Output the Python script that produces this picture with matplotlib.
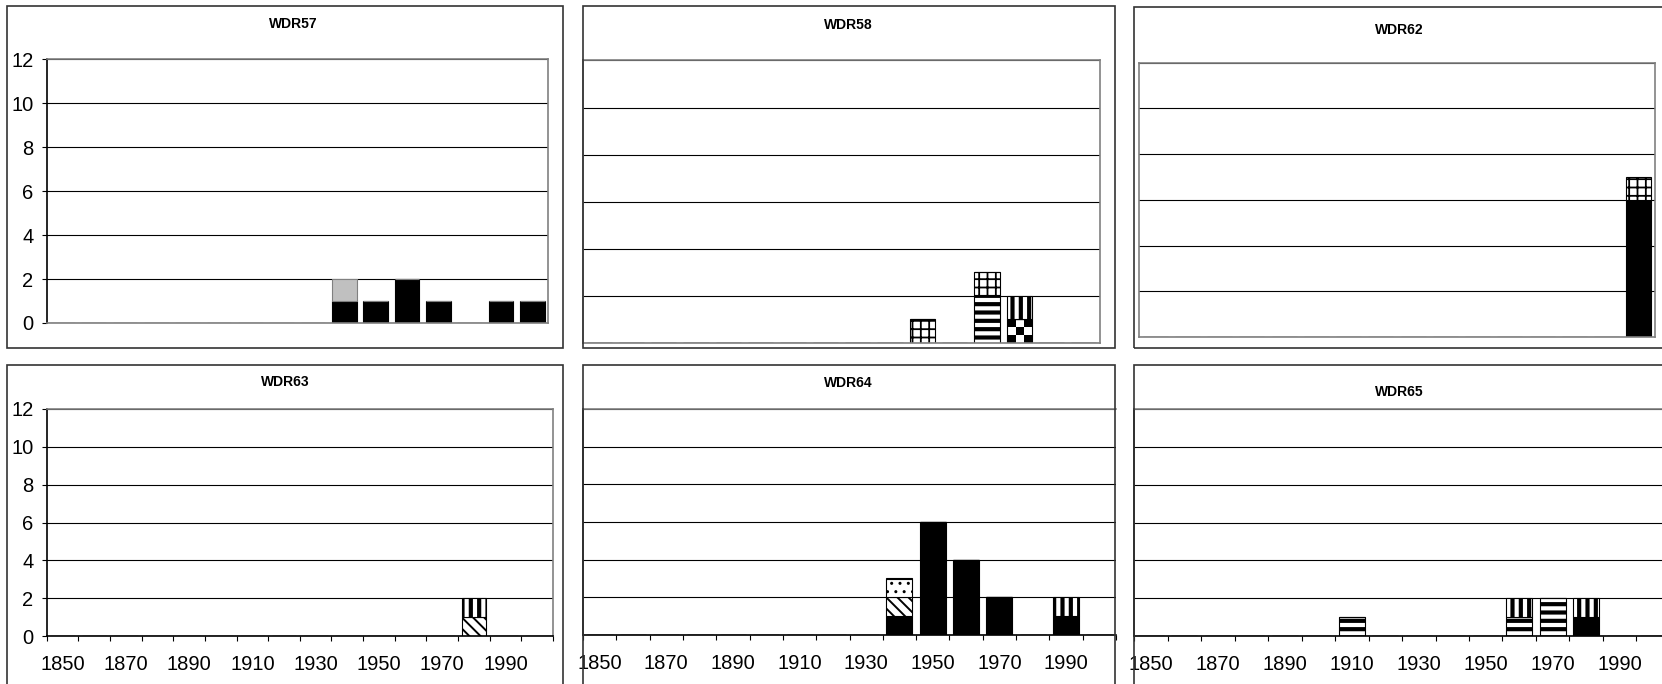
import numpy as np
import matplotlib
matplotlib.use('Agg')
import matplotlib.pyplot as plt
from matplotlib.patches import Rectangle

plt.rcParams['font.family'] = ['Liberation Sans', 'DejaVu Sans']

# categories (decades) and the labels shown under the bottom row
years = [1850, 1860, 1870, 1880, 1890, 1900, 1910, 1920,
         1930, 1940, 1950, 1960, 1970, 1980, 1990, 2000]
year_labels = ['1850', '1870', '1890', '1910', '1930', '1950', '1970', '1990']
y_ticks = [0, 2, 4, 6, 8, 10, 12]

# counts per decade, one list per fill pattern and panel
wdr57_black = [0, 0, 0, 0, 0, 0, 0, 0, 0, 1, 1, 2, 1, 0, 1, 1]
wdr57_grey = [0, 0, 0, 0, 0, 0, 0, 0, 0, 1, 0, 0, 0, 0, 0, 0]

wdr58_grid = [0, 0, 0, 0, 0, 0, 0, 0, 0, 0, 1, 0, 1, 0, 0, 0]
wdr58_hstripe = [0, 0, 0, 0, 0, 0, 0, 0, 0, 0, 0, 0, 2, 0, 0, 0]
wdr58_checker = [0, 0, 0, 0, 0, 0, 0, 0, 0, 0, 0, 0, 0, 1, 0, 0]
wdr58_vstripe = [0, 0, 0, 0, 0, 0, 0, 0, 0, 0, 0, 0, 0, 1, 0, 0]

wdr62_black = [0, 0, 0, 0, 0, 0, 0, 0, 0, 0, 0, 0, 0, 0, 0, 6]
wdr62_grid = [0, 0, 0, 0, 0, 0, 0, 0, 0, 0, 0, 0, 0, 0, 0, 1]

wdr63_diag = [0, 0, 0, 0, 0, 0, 0, 0, 0, 0, 0, 0, 0, 1, 0, 0]
wdr63_vstripe = [0, 0, 0, 0, 0, 0, 0, 0, 0, 0, 0, 0, 0, 1, 0, 0]

wdr64_black = [0, 0, 0, 0, 0, 0, 0, 0, 0, 1, 6, 4, 2, 0, 1, 0]
wdr64_diag = [0, 0, 0, 0, 0, 0, 0, 0, 0, 1, 0, 0, 0, 0, 0, 0]
wdr64_dots = [0, 0, 0, 0, 0, 0, 0, 0, 0, 1, 0, 0, 0, 0, 0, 0]
wdr64_vstripe = [0, 0, 0, 0, 0, 0, 0, 0, 0, 0, 0, 0, 0, 0, 1, 0]

wdr65_black = [0, 0, 0, 0, 0, 0, 0, 0, 0, 0, 0, 0, 0, 1, 0, 0]
wdr65_hstripe = [0, 0, 0, 0, 0, 0, 1, 0, 0, 0, 0, 1, 2, 0, 0, 0]
wdr65_vstripe = [0, 0, 0, 0, 0, 0, 0, 0, 0, 0, 0, 1, 0, 1, 0, 0]

W, H = 1662, 684
fig = plt.figure(figsize=(W / 100, H / 100), dpi=100)

order = ['black', 'grey', 'checker', 'diag', 'hstripe', 'dots', 'grid', 'vstripe']
styles = {
    'black': dict(fc='black', ec='black', hatch=None, hlw=None),
    'grey': dict(fc='#c0c0c0', ec='#808080', hatch=None, hlw=None),
    'checker': dict(fc='none', ec='black', hatch=None, hlw=None),
    'diag': dict(fc='white', ec='black', hatch='\\\\\\', hlw=1.4),
    'hstripe': dict(fc='white', ec='black', hatch='--', hlw=3.0),
    'dots': dict(fc='white', ec='black', hatch='..', hlw=1.0),
    'grid': dict(fc='white', ec='black', hatch='++', hlw=1.3),
    'vstripe': dict(fc='white', ec='black', hatch='||', hlw=3.0),
}
checker = np.array([[1, 0, 1], [0, 1, 0], [1, 0, 1]])

LABEL_SIZE = 14.5


def add_panel(left, top, right, bottom):
    ax = fig.add_axes([left / W, 1 - bottom / H, (right - left) / W, (bottom - top) / H])
    ax.set_yticks(y_ticks)
    ax.yaxis.grid(True, color='black', lw=0.8)
    ax.set_axisbelow(True)
    for s in ax.spines.values():
        s.set_color('#808080')
        s.set_linewidth(1.2)
    ax.tick_params(which='both', length=0, labelleft=False, labelbottom=False)
    return ax


def stacked(ax, series):
    x = np.arange(len(years)) + 0.5
    bottom = np.zeros(len(years))
    for name in order:
        if name not in series:
            continue
        vals = np.array(series[name], dtype=float)
        st = styles[name]
        bars = ax.bar(x, vals, 0.78, bottom=bottom, facecolor=st['fc'],
                      edgecolor=st['ec'], linewidth=0.8, hatch=st['hatch'], zorder=2)
        for b in bars:
            if st['hlw'] and hasattr(b, 'set_hatch_linewidth'):
                b.set_hatch_linewidth(st['hlw'])
            if name == 'checker' and b.get_height() > 0:
                x0, y0 = b.get_x(), b.get_y()
                ax.imshow(checker, cmap='gray_r', vmin=0, vmax=1, aspect='auto',
                          interpolation='nearest', zorder=1.9,
                          extent=(x0, x0 + b.get_width(), y0, y0 + b.get_height()))
        bottom += vals
    ax.set_xlim(0, len(years))
    ax.set_ylim(0, 12)


def y_labels(ax):
    ax.spines['left'].set_color('black')
    ax.tick_params(axis='y', which='major', length=3.6, direction='out',
                   labelleft=True, labelsize=LABEL_SIZE, pad=6, color='black')


def x_labels(ax):
    ax.spines['bottom'].set_color('black')
    ax.spines['left'].set_color('black')
    ax.set_xticks(np.arange(len(years) + 1))
    ax.set_xticks(np.arange(0, len(years), 2) + 0.5, minor=True)
    ax.set_xticklabels(year_labels, minor=True)
    ax.tick_params(axis='x', which='major', length=3.6, direction='out', color='black')
    ax.tick_params(axis='x', which='minor', length=0, labelbottom=True,
                   labelsize=LABEL_SIZE, pad=14)


def frame(left, top, right, bottom):
    fig.add_artist(Rectangle((left / W, 1 - bottom / H), (right - left) / W,
                             (bottom - top) / H, transform=fig.transFigure,
                             fill=False, edgecolor='#333333', linewidth=1.2))


def title(x, y, text):
    fig.text(x / W, 1 - y / H, text, ha='center', va='center',
             fontsize=10, fontweight='bold')


# top row
frame(7, 6, 563, 348)
frame(583, 6, 1115, 348)
frame(1134, 7, 1700, 348)
# bottom row
frame(7, 365, 563, 720)
frame(583, 365, 1115, 720)
frame(1134, 365, 1700, 720)

ax1 = add_panel(46.7, 59.3, 548, 323)
stacked(ax1, {'black': wdr57_black, 'grey': wdr57_grey})
y_labels(ax1)
title(293, 24, 'WDR57')

ax2 = add_panel(583, 60.4, 1100, 343)
stacked(ax2, {'grid': wdr58_grid, 'hstripe': wdr58_hstripe,
              'checker': wdr58_checker, 'vstripe': wdr58_vstripe})
title(848, 25, 'WDR58')

ax3 = add_panel(1139, 62.5, 1655, 337)
stacked(ax3, {'black': wdr62_black, 'grid': wdr62_grid})
title(1399, 30, 'WDR62')

ax4 = add_panel(46.7, 409, 553, 636)
stacked(ax4, {'diag': wdr63_diag, 'vstripe': wdr63_vstripe})
y_labels(ax4)
x_labels(ax4)
title(285, 382, 'WDR63')

ax5 = add_panel(583, 409, 1116, 635)
stacked(ax5, {'black': wdr64_black, 'diag': wdr64_diag,
              'dots': wdr64_dots, 'vstripe': wdr64_vstripe})
x_labels(ax5)
ax5.spines['right'].set_visible(False)
title(848, 383, 'WDR64')

ax6 = add_panel(1134, 409, 1670, 636)
stacked(ax6, {'black': wdr65_black, 'hstripe': wdr65_hstripe,
              'vstripe': wdr65_vstripe})
x_labels(ax6)
title(1399, 392, 'WDR65')

fig.savefig('out.png', dpi=100)
